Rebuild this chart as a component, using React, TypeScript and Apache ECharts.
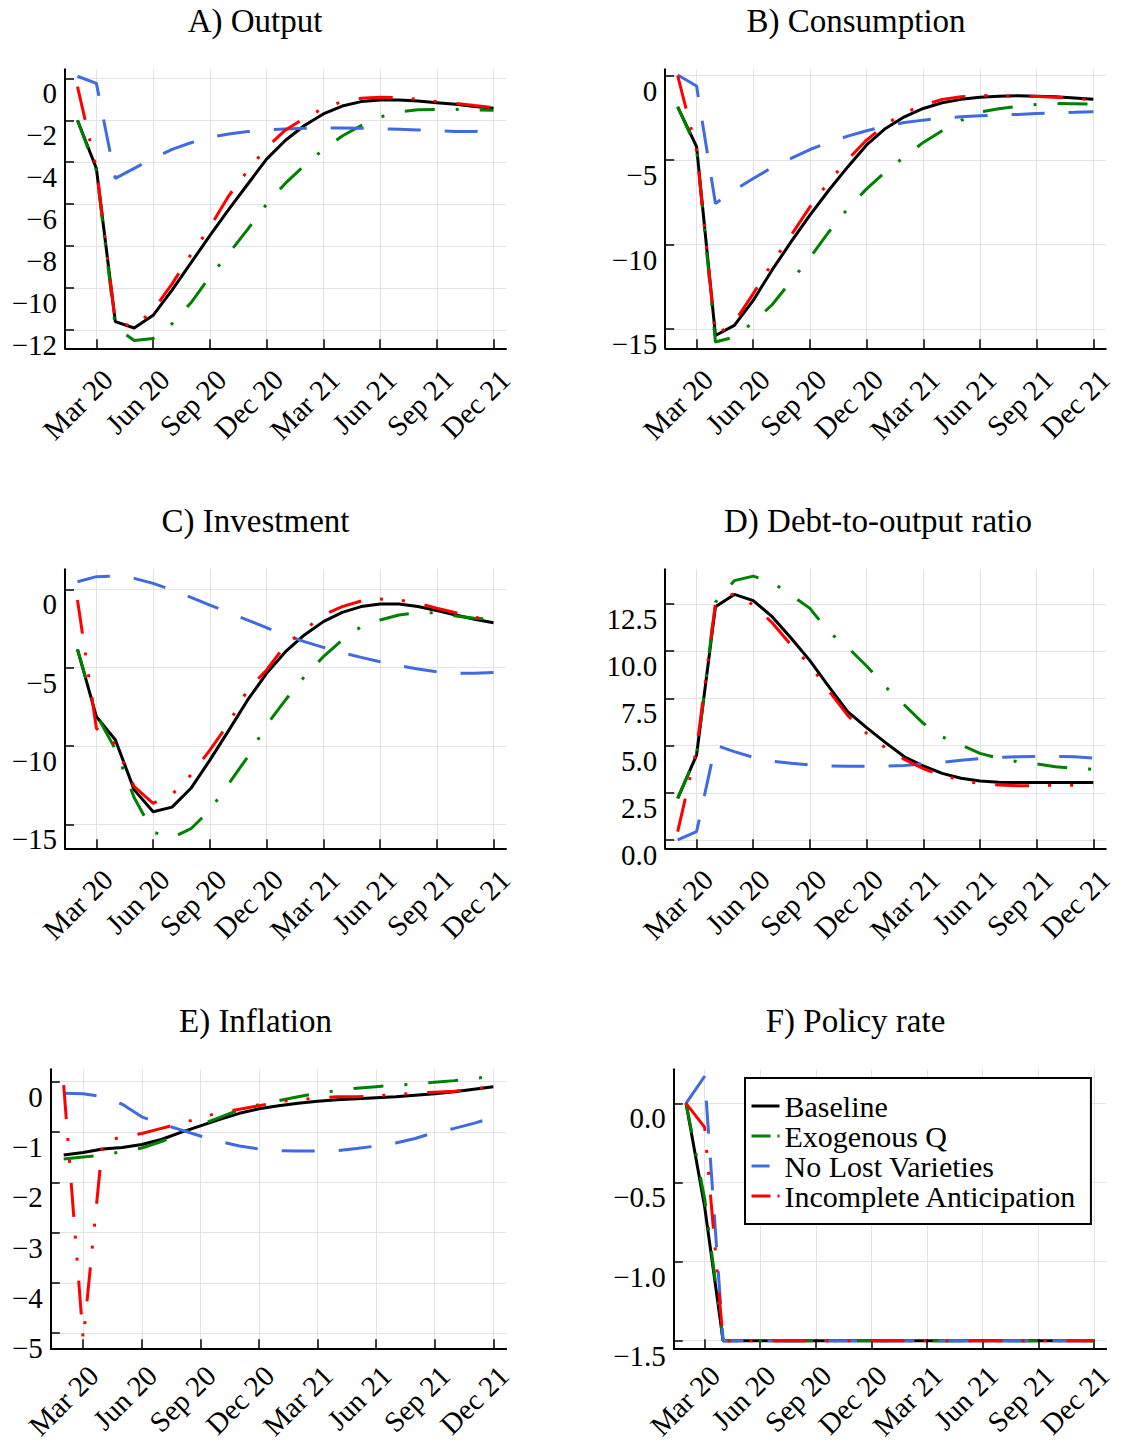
import React, { useEffect, useRef } from 'react';
import * as echarts from 'echarts';

const FONT = '"Liberation Serif", "Times New Roman", serif';
const MINUS = '\u2212';

const months = ['Feb 20','Mar 20','Apr 20','May 20','Jun 20','Jul 20','Aug 20','Sep 20','Oct 20','Nov 20','Dec 20','Jan 21','Feb 21','Mar 21','Apr 21','May 21','Jun 21','Jul 21','Aug 21','Sep 21','Oct 21','Nov 21','Dec 21'];
const xTickLabels = ['Mar 20','Jun 20','Sep 20','Dec 20','Mar 21','Jun 21','Sep 21','Dec 21'];
const xTickIdx = xTickLabels.map((l) => months.indexOf(l));

const seriesNames = ['Baseline', 'Exogenous Q', 'No Lost Varieties', 'Incomplete Anticipation'];

// A) Output
const outBase = [-2.0, -4.3, -11.6, -11.9, -11.3, -10.1, -8.8, -7.5, -6.25, -5.05, -3.85, -2.95, -2.25, -1.7, -1.32, -1.11, -1.03, -1.03, -1.08, -1.16, -1.24, -1.34, -1.43];
const outExoQ = [-2.0, -4.4, -11.85, -12.5, -12.4, -11.7, -10.7, -9.45, -8.35, -7.2, -6.0, -5.0, -4.15, -3.4, -2.75, -2.25, -1.85, -1.6, -1.5, -1.48, -1.48, -1.5, -1.52];
const outNLV = [0.1, -0.24, -4.77, -4.29, -3.82, -3.39, -3.07, -2.81, -2.65, -2.54, -2.46, -2.42, -2.38, -2.37, -2.37, -2.38, -2.4, -2.43, -2.46, -2.5, -2.53, -2.53, -2.48];
const outIA = [-0.4, -4.3, -11.6, -11.85, -11.05, -9.8, -8.4, -7.1, -5.6, -4.4, -3.3, -2.46, -1.9, -1.43, -1.11, -0.95, -0.9, -0.92, -1.0, -1.11, -1.19, -1.3, -1.4];

// B) Consumption
const conBase = [-1.84, -4.2, -15.38, -14.78, -13.3, -11.5, -9.84, -8.26, -6.78, -5.4, -4.1, -3.12, -2.43, -1.94, -1.6, -1.4, -1.28, -1.21, -1.19, -1.21, -1.25, -1.32, -1.4];
const conExoQ = [-1.84, -4.3, -15.77, -15.47, -14.6, -13.56, -12.17, -10.77, -9.25, -7.87, -6.7, -5.69, -4.8, -3.95, -3.26, -2.65, -2.15, -1.96, -1.82, -1.7, -1.64, -1.66, -1.68];
const conNLV = [0.04, -0.61, -7.57, -6.78, -6.09, -5.43, -4.9, -4.37, -3.95, -3.58, -3.26, -2.98, -2.77, -2.63, -2.51, -2.43, -2.37, -2.33, -2.29, -2.23, -2.2, -2.17, -2.13];
const conIA = [0.0, -4.4, -15.38, -14.6, -12.9, -11.1, -9.45, -7.77, -6.28, -4.96, -3.81, -2.89, -2.19, -1.74, -1.4, -1.25, -1.17, -1.19, -1.2, -1.23, -1.27, -1.33, -1.44];

// C) Investment
const invBase = [-3.83, -8.13, -9.6, -12.8, -14.2, -13.9, -12.7, -10.9, -9.0, -7.06, -5.36, -3.98, -2.91, -2.06, -1.47, -1.1, -0.94, -0.94, -1.1, -1.36, -1.64, -1.91, -2.13];
const invExoQ = [-3.83, -8.0, -10.2, -13.3, -15.5, -15.85, -15.28, -14.1, -12.4, -10.7, -8.66, -7.06, -5.57, -4.3, -3.23, -2.38, -1.96, -1.64, -1.49, -1.49, -1.7, -1.85, -1.91];
const invNLV = [0.49, 0.81, 0.85, 0.7, 0.38, -0.04, -0.51, -1.0, -1.49, -1.96, -2.45, -2.91, -3.34, -3.7, -4.04, -4.34, -4.62, -4.87, -5.09, -5.26, -5.36, -5.36, -5.3];
const invIA = [-0.68, -8.87, -9.9, -12.6, -13.66, -13.1, -11.85, -10.26, -8.55, -6.4, -5.15, -3.55, -2.6, -1.64, -1.1, -0.74, -0.62, -0.68, -0.89, -1.21, -1.49, -1.79, -1.96];

// D) Debt-to-output ratio
const debtBase = [2.2, 4.5, 12.36, 13.01, 12.68, 11.83, 10.7, 9.5, 8.12, 6.8, 5.95, 5.16, 4.41, 3.92, 3.53, 3.27, 3.13, 3.06, 3.04, 3.04, 3.04, 3.04, 3.04];
const debtExoQ = [2.2, 4.5, 12.6, 13.74, 13.98, 13.65, 12.98, 12.27, 11.03, 10.2, 9.22, 8.12, 7.15, 6.18, 5.47, 5.03, 4.59, 4.33, 4.15, 4.03, 3.88, 3.8, 3.74];
const debtNLV = [0.0, 0.44, 5.03, 4.68, 4.38, 4.18, 4.06, 3.97, 3.92, 3.9, 3.9, 3.92, 3.95, 4.03, 4.11, 4.22, 4.31, 4.38, 4.41, 4.43, 4.43, 4.41, 4.34];
const debtIA = [0.44, 4.8, 12.54, 13.07, 12.45, 11.51, 10.33, 9.27, 7.9, 6.6, 5.65, 4.88, 4.27, 3.78, 3.42, 3.17, 2.99, 2.91, 2.88, 2.88, 2.9, 2.9, 2.9];

// E) Inflation
const inflBase = [-1.46, -1.41, -1.34, -1.31, -1.25, -1.15, -1.01, -0.88, -0.75, -0.63, -0.54, -0.48, -0.43, -0.39, -0.36, -0.34, -0.32, -0.3, -0.27, -0.24, -0.2, -0.15, -0.1];
const inflExoQ = [-1.54, -1.5, -1.46, -1.39, -1.32, -1.19, -1.04, -0.86, -0.71, -0.56, -0.46, -0.38, -0.3, -0.23, -0.18, -0.13, -0.1, -0.07, -0.05, -0.01, 0.02, 0.06, 0.11];
const inflNLV = [-0.23, -0.24, -0.3, -0.45, -0.7, -0.84, -0.96, -1.08, -1.19, -1.28, -1.34, -1.37, -1.38, -1.38, -1.37, -1.33, -1.28, -1.22, -1.13, -1.01, -0.93, -0.83, -0.71];
const inflIA = [-0.07, -5.13, -1.19, -1.1, -1.03, -0.93, -0.83, -0.72, -0.61, -0.55, -0.48, -0.4, -0.36, -0.33, -0.3, -0.3, -0.28, -0.26, -0.23, -0.21, -0.19, -0.15, -0.09];

// F) Policy rate
const rateBase = [0, -0.65, -1.5, -1.5, -1.5, -1.5, -1.5, -1.5, -1.5, -1.5, -1.5, -1.5, -1.5, -1.5, -1.5, -1.5, -1.5, -1.5, -1.5, -1.5, -1.5, -1.5, -1.5];
const rateExoQ = [0, -0.6, -1.5, -1.5, -1.5, -1.5, -1.5, -1.5, -1.5, -1.5, -1.5, -1.5, -1.5, -1.5, -1.5, -1.5, -1.5, -1.5, -1.5, -1.5, -1.5, -1.5, -1.5];
const rateNLV = [0, 0.17, -1.5, -1.5, -1.5, -1.5, -1.5, -1.5, -1.5, -1.5, -1.5, -1.5, -1.5, -1.5, -1.5, -1.5, -1.5, -1.5, -1.5, -1.5, -1.5, -1.5, -1.5];
const rateIA = [0, -0.15, -1.5, -1.5, -1.5, -1.5, -1.5, -1.5, -1.5, -1.5, -1.5, -1.5, -1.5, -1.5, -1.5, -1.5, -1.5, -1.5, -1.5, -1.5, -1.5, -1.5, -1.5];

// y tick values
const yTicksA = [-12, -10, -8, -6, -4, -2, 0];
const yTicksB = [-15, -10, -5, 0];
const yTicksC = [-15, -10, -5, 0];
const yTicksD = [0, 2.5, 5, 7.5, 10, 12.5];
const yTicksE = [-5, -4, -3, -2, -1, 0];
const yTicksF = [-1.5, -1, -0.5, 0];

const lineStyles = [
  { color: '#000000', type: 'solid' as any },
  { color: '#008000', type: [30, 21, 3, 21] },
  { color: '#4169E1', type: [33, 24] },
  { color: '#FF0000', type: [34, 19, 3, 19, 3, 20] },
];
const legendDash = ['solid', [19, 7, 3, 10], [18, 20], [19, 7, 3, 10]];

const panels = [
  { title: 'A) Output', tx: 255, ty: 21, grid: { left: 65, top: 69.3, width: 441, height: 279 }, yMin: -12.87, yMax: 0.43, yTicks: yTicksA, dec: 0, bottomRow: false, data: [outBase, outExoQ, outNLV, outIA] },
  { title: 'B) Consumption', tx: 856, ty: 21, grid: { left: 665.2, top: 69.3, width: 440.6, height: 279 }, yMin: -16.14, yMax: 0.38, yTicks: yTicksB, dec: 0, bottomRow: false, data: [conBase, conExoQ, conNLV, conIA] },
  { title: 'C) Investment', tx: 255.5, ty: 521, grid: { left: 65, top: 569.3, width: 441, height: 279 }, yMin: -16.53, yMax: 1.28, yTicks: yTicksC, dec: 0, bottomRow: false, data: [invBase, invExoQ, invNLV, invIA] },
  { title: 'D) Debt-to-output ratio', tx: 878, ty: 521, grid: { left: 665.2, top: 569.3, width: 440.6, height: 279 }, yMin: -0.44, yMax: 14.34, yTicks: yTicksD, dec: 1, bottomRow: false, data: [debtBase, debtExoQ, debtNLV, debtIA] },
  { title: 'E) Inflation', tx: 255.5, ty: 1021, grid: { left: 50.8, top: 1069.3, width: 455.4, height: 279 }, yMin: -5.3, yMax: 0.245, yTicks: yTicksE, dec: 0, bottomRow: true, data: [inflBase, inflExoQ, inflNLV, inflIA] },
  { title: 'F) Policy rate', tx: 855.5, ty: 1021, grid: { left: 673.8, top: 1069.3, width: 432.4, height: 279 }, yMin: -1.548, yMax: 0.215, yTicks: yTicksF, dec: 1, bottomRow: true, data: [rateBase, rateExoQ, rateNLV, rateIA] },
];

function fmt(v: number, dec: number) {
  const s = Math.abs(v).toFixed(dec);
  return (v < -1e-9 ? MINUS : '') + s;
}

function buildOption() {
  const axisLineStyle = { color: '#000', width: 2 };
  const splitLine = { show: true, lineStyle: { color: '#e3e3e3', width: 1 } };
  const grid = panels.map((p) => ({ ...p.grid, containLabel: false, outerBoundsMode: 'none' }));
  const xAxis = panels.map((p, i) => ({
    gridIndex: i,
    type: 'value',
    min: -0.66,
    max: 22.66,
    axisLine: { show: true, onZero: false, lineStyle: axisLineStyle },
    axisTick: { show: true, inside: true, length: 9, lineStyle: { color: '#000', width: 1.5 }, customValues: xTickIdx },
    axisLabel: {
      show: true,
      customValues: xTickIdx,
      formatter: (v: number) => xTickLabels[xTickIdx.indexOf(Math.round(v))] || '',
      rotate: 45,
      margin: p.bottomRow ? 12 : 15,
      verticalAlign: 'top',
      lineHeight: p.bottomRow ? 29 : 32,
      fontFamily: FONT,
      fontSize: 29,
      color: '#000',
    },
    splitLine,
  }));
  const yAxis = panels.map((p, i) => ({
    gridIndex: i,
    type: 'value',
    min: p.yMin,
    max: p.yMax,
    axisLine: { show: true, onZero: false, lineStyle: axisLineStyle },
    axisTick: { show: true, inside: true, length: 9, lineStyle: { color: '#000', width: 1.5 }, customValues: p.yTicks },
    axisLabel: {
      show: true,
      customValues: p.yTicks,
      formatter: (v: number) => fmt(v, p.dec),
      margin: 8,
      verticalAlign: 'top',
      lineHeight: 30,
      fontFamily: FONT,
      fontSize: 29,
      color: '#000',
    },
    splitLine,
  }));
  const series: any[] = [];
  panels.forEach((p, i) => {
    p.data.forEach((arr, k) => {
      series.push({
        type: 'line',
        name: seriesNames[k],
        xAxisIndex: i,
        yAxisIndex: i,
        data: arr.map((v, j) => [j, v]),
        symbol: 'none',
        showSymbol: false,
        clip: false,
        lineStyle: { color: lineStyles[k].color, type: lineStyles[k].type, width: 3 },
        itemStyle: { color: lineStyles[k].color },
        emphasis: { disabled: true },
        z: 2 + k,
      });
    });
  });
  const graphic = panels.map((p) => ({
    type: 'text',
    x: p.tx,
    y: p.ty,
    style: { text: p.title, fontFamily: FONT, fontSize: 33, fill: '#000', align: 'center', verticalAlign: 'middle' },
  }));
  return {
    animation: false,
    backgroundColor: '#ffffff',
    grid,
    xAxis,
    yAxis,
    series,
    graphic,
    legend: {
      show: true,
      orient: 'vertical',
      left: 745,
      top: 1078,
      itemWidth: 28,
      itemHeight: 14,
      itemGap: 0,
      padding: [13, 14, 13, 5],
      borderColor: '#000',
      borderWidth: 2,
      backgroundColor: '#ffffff',
      selectedMode: false,
      textStyle: { fontFamily: FONT, fontSize: 30, color: '#000', lineHeight: 30 },
      data: seriesNames.map((n, k) => ({
        name: n,
        itemStyle: { opacity: 0 },
        lineStyle: { color: lineStyles[k].color, type: legendDash[k], width: 3 },
      })),
      z: 10,
    },
  };
}

export default function App() {
  const ref = useRef<HTMLDivElement>(null);
  useEffect(() => {
    if (!ref.current) return;
    const chart = echarts.init(ref.current, null, { renderer: 'svg', width: 1122, height: 1444 });
    chart.setOption(buildOption() as any);
    return () => chart.dispose();
  }, []);
  return (
    <div
      ref={ref}
      style={{ position: 'absolute', left: 0, top: 0, width: 1122, height: 1444, background: '#fff' }}
    />
  );
}
